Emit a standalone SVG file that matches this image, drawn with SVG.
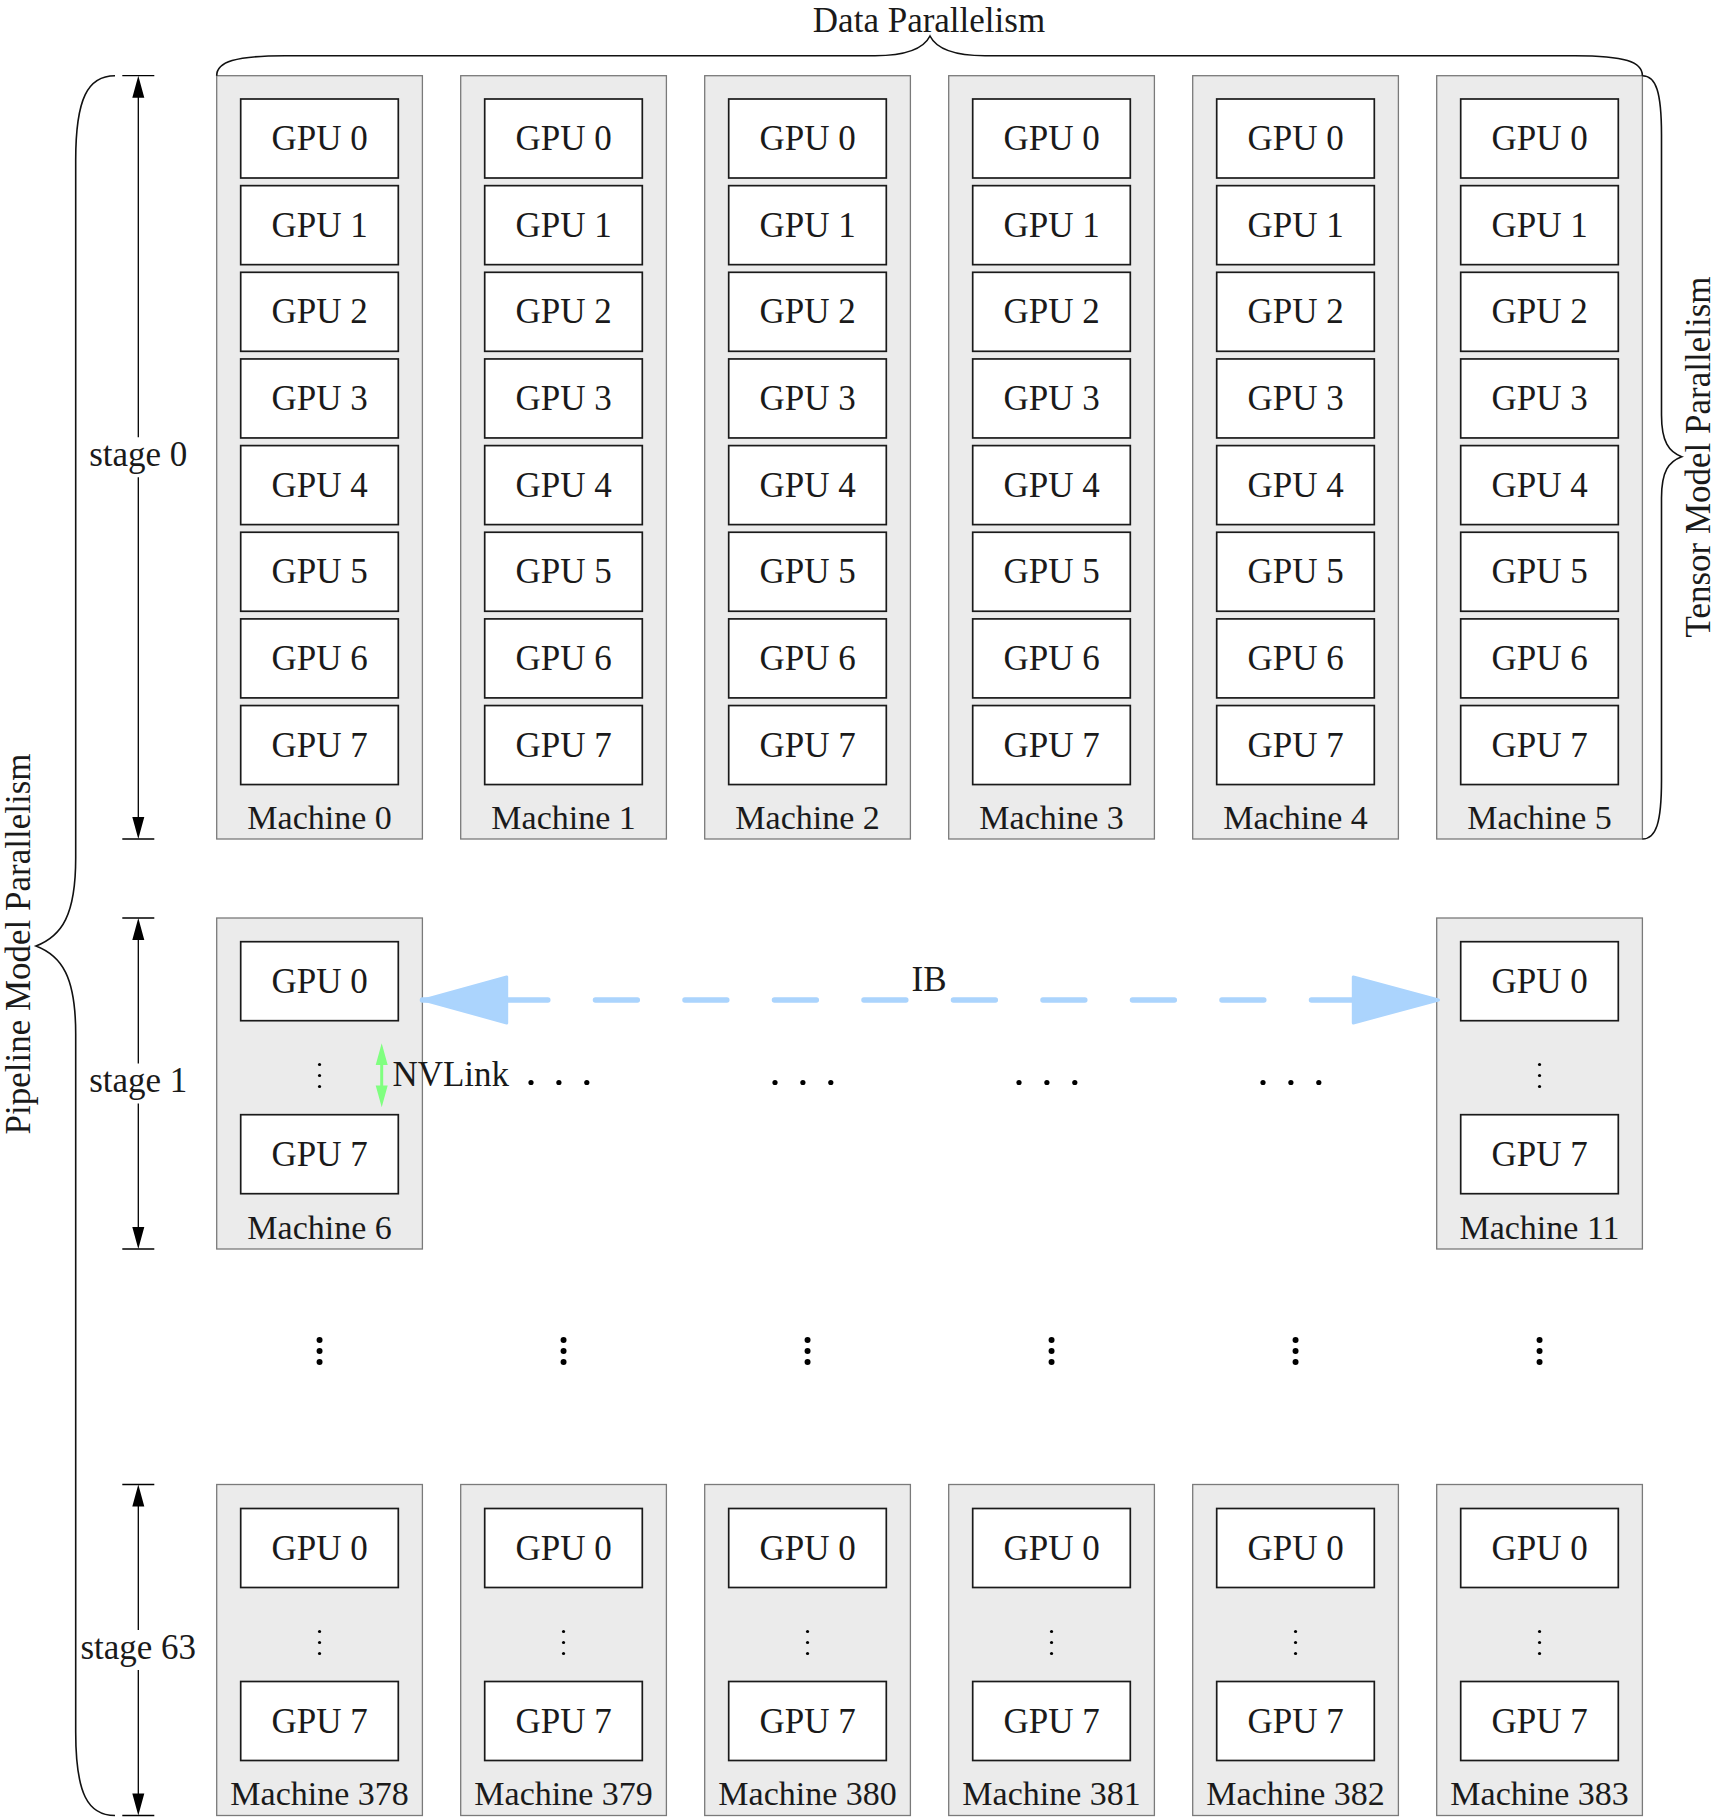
<svg xmlns="http://www.w3.org/2000/svg" width="1718" height="1817" viewBox="0 0 1718 1817">
<style>
.bg{fill:#ffffff}
.m{fill:#ebebeb;stroke:#7a7a7a;stroke-width:1.3}
.g{fill:#ffffff;stroke:#1a1a1a;stroke-width:1.7}
.t{font-family:"Liberation Serif","Times New Roman",serif;font-size:35px;fill:#1a1a1a;text-anchor:middle}
.ml{font-family:"Liberation Serif","Times New Roman",serif;font-size:34px;fill:#1a1a1a;text-anchor:middle}
.ln{fill:none;stroke:#000;stroke-width:1.3}
.br{fill:none;stroke:#111;stroke-width:1.6}
.ah{fill:#000;stroke:none}
.d{fill:#000}
.ib{fill:none;stroke:#abd4fd;stroke-width:5.3;stroke-linecap:round;stroke-dasharray:42 47.5;stroke-dashoffset:6}
.ibh{fill:#abd4fd;stroke:#abd4fd;stroke-width:3;stroke-linejoin:round}
.nv{fill:none;stroke:#80ff80;stroke-width:3}
.nvh{fill:#80ff80;stroke:none}
</style>
<rect class="bg" x="0" y="0" width="1718" height="1817"/>

<!-- Top row: stage 0 machines -->
<g id="machine0" transform="translate(216.7,75.7)">
<rect class="m" x="0" y="0" width="205.7" height="763.3"/>
<rect class="g" x="24" y="23.3" width="157.6" height="79"/><text class="t" x="102.85" y="74.3">GPU 0</text>
<rect class="g" x="24" y="109.95" width="157.6" height="79"/><text class="t" x="102.85" y="160.95">GPU 1</text>
<rect class="g" x="24" y="196.6" width="157.6" height="79"/><text class="t" x="102.85" y="247.6">GPU 2</text>
<rect class="g" x="24" y="283.25" width="157.6" height="79"/><text class="t" x="102.85" y="334.25">GPU 3</text>
<rect class="g" x="24" y="369.9" width="157.6" height="79"/><text class="t" x="102.85" y="420.9">GPU 4</text>
<rect class="g" x="24" y="456.55" width="157.6" height="79"/><text class="t" x="102.85" y="507.55">GPU 5</text>
<rect class="g" x="24" y="543.2" width="157.6" height="79"/><text class="t" x="102.85" y="594.2">GPU 6</text>
<rect class="g" x="24" y="629.85" width="157.6" height="79"/><text class="t" x="102.85" y="680.85">GPU 7</text>
<text class="ml" x="102.85" y="753.3">Machine 0</text>
</g>
<g id="machine1" transform="translate(460.7,75.7)">
<rect class="m" x="0" y="0" width="205.7" height="763.3"/>
<rect class="g" x="24" y="23.3" width="157.6" height="79"/><text class="t" x="102.85" y="74.3">GPU 0</text>
<rect class="g" x="24" y="109.95" width="157.6" height="79"/><text class="t" x="102.85" y="160.95">GPU 1</text>
<rect class="g" x="24" y="196.6" width="157.6" height="79"/><text class="t" x="102.85" y="247.6">GPU 2</text>
<rect class="g" x="24" y="283.25" width="157.6" height="79"/><text class="t" x="102.85" y="334.25">GPU 3</text>
<rect class="g" x="24" y="369.9" width="157.6" height="79"/><text class="t" x="102.85" y="420.9">GPU 4</text>
<rect class="g" x="24" y="456.55" width="157.6" height="79"/><text class="t" x="102.85" y="507.55">GPU 5</text>
<rect class="g" x="24" y="543.2" width="157.6" height="79"/><text class="t" x="102.85" y="594.2">GPU 6</text>
<rect class="g" x="24" y="629.85" width="157.6" height="79"/><text class="t" x="102.85" y="680.85">GPU 7</text>
<text class="ml" x="102.85" y="753.3">Machine 1</text>
</g>
<g id="machine2" transform="translate(704.7,75.7)">
<rect class="m" x="0" y="0" width="205.7" height="763.3"/>
<rect class="g" x="24" y="23.3" width="157.6" height="79"/><text class="t" x="102.85" y="74.3">GPU 0</text>
<rect class="g" x="24" y="109.95" width="157.6" height="79"/><text class="t" x="102.85" y="160.95">GPU 1</text>
<rect class="g" x="24" y="196.6" width="157.6" height="79"/><text class="t" x="102.85" y="247.6">GPU 2</text>
<rect class="g" x="24" y="283.25" width="157.6" height="79"/><text class="t" x="102.85" y="334.25">GPU 3</text>
<rect class="g" x="24" y="369.9" width="157.6" height="79"/><text class="t" x="102.85" y="420.9">GPU 4</text>
<rect class="g" x="24" y="456.55" width="157.6" height="79"/><text class="t" x="102.85" y="507.55">GPU 5</text>
<rect class="g" x="24" y="543.2" width="157.6" height="79"/><text class="t" x="102.85" y="594.2">GPU 6</text>
<rect class="g" x="24" y="629.85" width="157.6" height="79"/><text class="t" x="102.85" y="680.85">GPU 7</text>
<text class="ml" x="102.85" y="753.3">Machine 2</text>
</g>
<g id="machine3" transform="translate(948.7,75.7)">
<rect class="m" x="0" y="0" width="205.7" height="763.3"/>
<rect class="g" x="24" y="23.3" width="157.6" height="79"/><text class="t" x="102.85" y="74.3">GPU 0</text>
<rect class="g" x="24" y="109.95" width="157.6" height="79"/><text class="t" x="102.85" y="160.95">GPU 1</text>
<rect class="g" x="24" y="196.6" width="157.6" height="79"/><text class="t" x="102.85" y="247.6">GPU 2</text>
<rect class="g" x="24" y="283.25" width="157.6" height="79"/><text class="t" x="102.85" y="334.25">GPU 3</text>
<rect class="g" x="24" y="369.9" width="157.6" height="79"/><text class="t" x="102.85" y="420.9">GPU 4</text>
<rect class="g" x="24" y="456.55" width="157.6" height="79"/><text class="t" x="102.85" y="507.55">GPU 5</text>
<rect class="g" x="24" y="543.2" width="157.6" height="79"/><text class="t" x="102.85" y="594.2">GPU 6</text>
<rect class="g" x="24" y="629.85" width="157.6" height="79"/><text class="t" x="102.85" y="680.85">GPU 7</text>
<text class="ml" x="102.85" y="753.3">Machine 3</text>
</g>
<g id="machine4" transform="translate(1192.7,75.7)">
<rect class="m" x="0" y="0" width="205.7" height="763.3"/>
<rect class="g" x="24" y="23.3" width="157.6" height="79"/><text class="t" x="102.85" y="74.3">GPU 0</text>
<rect class="g" x="24" y="109.95" width="157.6" height="79"/><text class="t" x="102.85" y="160.95">GPU 1</text>
<rect class="g" x="24" y="196.6" width="157.6" height="79"/><text class="t" x="102.85" y="247.6">GPU 2</text>
<rect class="g" x="24" y="283.25" width="157.6" height="79"/><text class="t" x="102.85" y="334.25">GPU 3</text>
<rect class="g" x="24" y="369.9" width="157.6" height="79"/><text class="t" x="102.85" y="420.9">GPU 4</text>
<rect class="g" x="24" y="456.55" width="157.6" height="79"/><text class="t" x="102.85" y="507.55">GPU 5</text>
<rect class="g" x="24" y="543.2" width="157.6" height="79"/><text class="t" x="102.85" y="594.2">GPU 6</text>
<rect class="g" x="24" y="629.85" width="157.6" height="79"/><text class="t" x="102.85" y="680.85">GPU 7</text>
<text class="ml" x="102.85" y="753.3">Machine 4</text>
</g>
<g id="machine5" transform="translate(1436.7,75.7)">
<rect class="m" x="0" y="0" width="205.7" height="763.3"/>
<rect class="g" x="24" y="23.3" width="157.6" height="79"/><text class="t" x="102.85" y="74.3">GPU 0</text>
<rect class="g" x="24" y="109.95" width="157.6" height="79"/><text class="t" x="102.85" y="160.95">GPU 1</text>
<rect class="g" x="24" y="196.6" width="157.6" height="79"/><text class="t" x="102.85" y="247.6">GPU 2</text>
<rect class="g" x="24" y="283.25" width="157.6" height="79"/><text class="t" x="102.85" y="334.25">GPU 3</text>
<rect class="g" x="24" y="369.9" width="157.6" height="79"/><text class="t" x="102.85" y="420.9">GPU 4</text>
<rect class="g" x="24" y="456.55" width="157.6" height="79"/><text class="t" x="102.85" y="507.55">GPU 5</text>
<rect class="g" x="24" y="543.2" width="157.6" height="79"/><text class="t" x="102.85" y="594.2">GPU 6</text>
<rect class="g" x="24" y="629.85" width="157.6" height="79"/><text class="t" x="102.85" y="680.85">GPU 7</text>
<text class="ml" x="102.85" y="753.3">Machine 5</text>
</g>

<!-- Stage 1 machines -->
<g id="machine6" transform="translate(216.7,918)">
<rect class="m" x="0" y="0" width="205.7" height="331"/>
<rect class="g" x="24" y="23.7" width="157.6" height="79"/><text class="t" x="102.85" y="74.7">GPU 0</text>
<circle class="d" cx="102.85" cy="146.5" r="1.6"/><circle class="d" cx="102.85" cy="157.5" r="1.6"/><circle class="d" cx="102.85" cy="168.5" r="1.6"/>
<rect class="g" x="24" y="196.7" width="157.6" height="79"/><text class="t" x="102.85" y="247.7">GPU 7</text>
<text class="ml" x="102.85" y="320.5">Machine 6</text>
</g>
<g id="machine11" transform="translate(1436.7,918)">
<rect class="m" x="0" y="0" width="205.7" height="331"/>
<rect class="g" x="24" y="23.7" width="157.6" height="79"/><text class="t" x="102.85" y="74.7">GPU 0</text>
<circle class="d" cx="102.85" cy="146.5" r="1.6"/><circle class="d" cx="102.85" cy="157.5" r="1.6"/><circle class="d" cx="102.85" cy="168.5" r="1.6"/>
<rect class="g" x="24" y="196.7" width="157.6" height="79"/><text class="t" x="102.85" y="247.7">GPU 7</text>
<text class="ml" x="102.85" y="320.5">Machine 11</text>
</g>

<!-- Stage 63 machines -->
<g id="machine378" transform="translate(216.7,1484.5)">
<rect class="m" x="0" y="0" width="205.7" height="331"/>
<rect class="g" x="24" y="24" width="157.6" height="79"/><text class="t" x="102.85" y="75">GPU 0</text>
<circle class="d" cx="102.85" cy="147" r="1.6"/><circle class="d" cx="102.85" cy="158" r="1.6"/><circle class="d" cx="102.85" cy="169" r="1.6"/>
<rect class="g" x="24" y="197" width="157.6" height="79"/><text class="t" x="102.85" y="248">GPU 7</text>
<text class="ml" x="102.85" y="320.5">Machine 378</text>
</g>
<g id="machine379" transform="translate(460.7,1484.5)">
<rect class="m" x="0" y="0" width="205.7" height="331"/>
<rect class="g" x="24" y="24" width="157.6" height="79"/><text class="t" x="102.85" y="75">GPU 0</text>
<circle class="d" cx="102.85" cy="147" r="1.6"/><circle class="d" cx="102.85" cy="158" r="1.6"/><circle class="d" cx="102.85" cy="169" r="1.6"/>
<rect class="g" x="24" y="197" width="157.6" height="79"/><text class="t" x="102.85" y="248">GPU 7</text>
<text class="ml" x="102.85" y="320.5">Machine 379</text>
</g>
<g id="machine380" transform="translate(704.7,1484.5)">
<rect class="m" x="0" y="0" width="205.7" height="331"/>
<rect class="g" x="24" y="24" width="157.6" height="79"/><text class="t" x="102.85" y="75">GPU 0</text>
<circle class="d" cx="102.85" cy="147" r="1.6"/><circle class="d" cx="102.85" cy="158" r="1.6"/><circle class="d" cx="102.85" cy="169" r="1.6"/>
<rect class="g" x="24" y="197" width="157.6" height="79"/><text class="t" x="102.85" y="248">GPU 7</text>
<text class="ml" x="102.85" y="320.5">Machine 380</text>
</g>
<g id="machine381" transform="translate(948.7,1484.5)">
<rect class="m" x="0" y="0" width="205.7" height="331"/>
<rect class="g" x="24" y="24" width="157.6" height="79"/><text class="t" x="102.85" y="75">GPU 0</text>
<circle class="d" cx="102.85" cy="147" r="1.6"/><circle class="d" cx="102.85" cy="158" r="1.6"/><circle class="d" cx="102.85" cy="169" r="1.6"/>
<rect class="g" x="24" y="197" width="157.6" height="79"/><text class="t" x="102.85" y="248">GPU 7</text>
<text class="ml" x="102.85" y="320.5">Machine 381</text>
</g>
<g id="machine382" transform="translate(1192.7,1484.5)">
<rect class="m" x="0" y="0" width="205.7" height="331"/>
<rect class="g" x="24" y="24" width="157.6" height="79"/><text class="t" x="102.85" y="75">GPU 0</text>
<circle class="d" cx="102.85" cy="147" r="1.6"/><circle class="d" cx="102.85" cy="158" r="1.6"/><circle class="d" cx="102.85" cy="169" r="1.6"/>
<rect class="g" x="24" y="197" width="157.6" height="79"/><text class="t" x="102.85" y="248">GPU 7</text>
<text class="ml" x="102.85" y="320.5">Machine 382</text>
</g>
<g id="machine383" transform="translate(1436.7,1484.5)">
<rect class="m" x="0" y="0" width="205.7" height="331"/>
<rect class="g" x="24" y="24" width="157.6" height="79"/><text class="t" x="102.85" y="75">GPU 0</text>
<circle class="d" cx="102.85" cy="147" r="1.6"/><circle class="d" cx="102.85" cy="158" r="1.6"/><circle class="d" cx="102.85" cy="169" r="1.6"/>
<rect class="g" x="24" y="197" width="157.6" height="79"/><text class="t" x="102.85" y="248">GPU 7</text>
<text class="ml" x="102.85" y="320.5">Machine 383</text>
</g>

<!-- Ellipsis dots -->
<g id="hdots">
<circle class="d" cx="531" cy="1082.5" r="2.6"/><circle class="d" cx="558.9" cy="1082.5" r="2.6"/><circle class="d" cx="586.8" cy="1082.5" r="2.6"/>
<circle class="d" cx="775" cy="1082.5" r="2.6"/><circle class="d" cx="802.9" cy="1082.5" r="2.6"/><circle class="d" cx="830.8" cy="1082.5" r="2.6"/>
<circle class="d" cx="1019" cy="1082.5" r="2.6"/><circle class="d" cx="1046.9" cy="1082.5" r="2.6"/><circle class="d" cx="1074.8" cy="1082.5" r="2.6"/>
<circle class="d" cx="1263" cy="1082.5" r="2.6"/><circle class="d" cx="1290.9" cy="1082.5" r="2.6"/><circle class="d" cx="1318.8" cy="1082.5" r="2.6"/>
</g>
<g id="vdots">
<circle class="d" cx="319.55" cy="1340" r="3"/><circle class="d" cx="319.55" cy="1351" r="3"/><circle class="d" cx="319.55" cy="1362" r="3"/>
<circle class="d" cx="563.55" cy="1340" r="3"/><circle class="d" cx="563.55" cy="1351" r="3"/><circle class="d" cx="563.55" cy="1362" r="3"/>
<circle class="d" cx="807.55" cy="1340" r="3"/><circle class="d" cx="807.55" cy="1351" r="3"/><circle class="d" cx="807.55" cy="1362" r="3"/>
<circle class="d" cx="1051.55" cy="1340" r="3"/><circle class="d" cx="1051.55" cy="1351" r="3"/><circle class="d" cx="1051.55" cy="1362" r="3"/>
<circle class="d" cx="1295.55" cy="1340" r="3"/><circle class="d" cx="1295.55" cy="1351" r="3"/><circle class="d" cx="1295.55" cy="1362" r="3"/>
<circle class="d" cx="1539.55" cy="1340" r="3"/><circle class="d" cx="1539.55" cy="1351" r="3"/><circle class="d" cx="1539.55" cy="1362" r="3"/>
</g>

<!-- Braces and labels -->
<g id="data-parallelism">
<path class="br" d="M216.7 75.7 C216.7 62 235 55.7 285 55.7 L875 55.7 C908 55.7 924 48 930 36 C936 48 952 55.7 985 55.7 L1575 55.7 C1625 55.7 1642.4 62 1642.4 75.7"/>
<text class="t" x="929" y="32">Data Parallelism</text>
</g>
<g id="tensor-model-parallelism">
<path class="br" d="M1642.4 75.7 C1656 75.7 1661.5 92 1661.5 135 L1661.5 415 C1661.5 442 1669 452 1681.7 456.7 C1669 461.4 1661.5 471 1661.5 498 L1661.5 780 C1661.5 823 1656 839 1642.4 839"/>
<text class="t" transform="translate(1710,457) rotate(-90)" x="0" y="0">Tensor Model Parallelism</text>
</g>
<g id="pipeline-model-parallelism">
<path class="br" d="M115 75.7 C88 75.7 75.7 98 75.7 160 L75.7 858 C75.7 915 62 936 36 946 C62 956 75.7 977 75.7 1034 L75.7 1732 C75.7 1794 88 1815.5 115 1815.5"/>
<text class="t" transform="translate(30,944) rotate(-90)" x="0" y="0">Pipeline Model Parallelism</text>
</g>

<!-- Connectors -->
<g id="connectors">
<!-- stage 0 -->
<path class="ln" d="M122.3 75.7 H154.3 M122.3 839 H154.3 M138.3 97 V437.3 M138.3 477.3 V818"/>
<path class="ah" d="M138.3 75.7 L132.3 97.7 L144.3 97.7 Z M138.3 839 L132.3 817 L144.3 817 Z"/>
<!-- stage 1 -->
<path class="ln" d="M122.3 918 H154.3 M122.3 1249 H154.3 M138.3 939 V1063.5 M138.3 1103.5 V1228"/>
<path class="ah" d="M138.3 918 L132.3 940 L144.3 940 Z M138.3 1249 L132.3 1227 L144.3 1227 Z"/>
<!-- stage 63 -->
<path class="ln" d="M122.3 1484.5 H154.3 M122.3 1815.5 H154.3 M138.3 1505.5 V1630 M138.3 1670 V1794.5"/>
<path class="ah" d="M138.3 1484.5 L132.3 1506.5 L144.3 1506.5 Z M138.3 1815.5 L132.3 1793.5 L144.3 1793.5 Z"/>
<!-- IB -->
<path class="ib" d="M422.4 1000 H1425"/>
<polygon class="ibh" points="423.5,1000 506.7,977 506.7,1023"/>
<polygon class="ibh" points="1438.5,1000 1353.3,977 1353.3,1023"/>
<!-- NVLink -->
<path class="nv" d="M381.7 1060 V1091"/>
<path class="nvh" d="M381.7 1043.3 L375.7 1065 L387.7 1065 Z M381.7 1107.3 L375.7 1085.6 L387.7 1085.6 Z"/>
</g>
<g id="link-labels">
<text class="t" x="929" y="990.7">IB</text>
<text class="t" x="392.4" y="1086" style="text-anchor:start">NVLink</text>
</g>
<g id="stage-labels">
<text class="t" x="138.3" y="466">stage 0</text>
<text class="t" x="138.3" y="1091.5">stage 1</text>
<text class="t" x="138.3" y="1658.5">stage 63</text>
</g>
</svg>
